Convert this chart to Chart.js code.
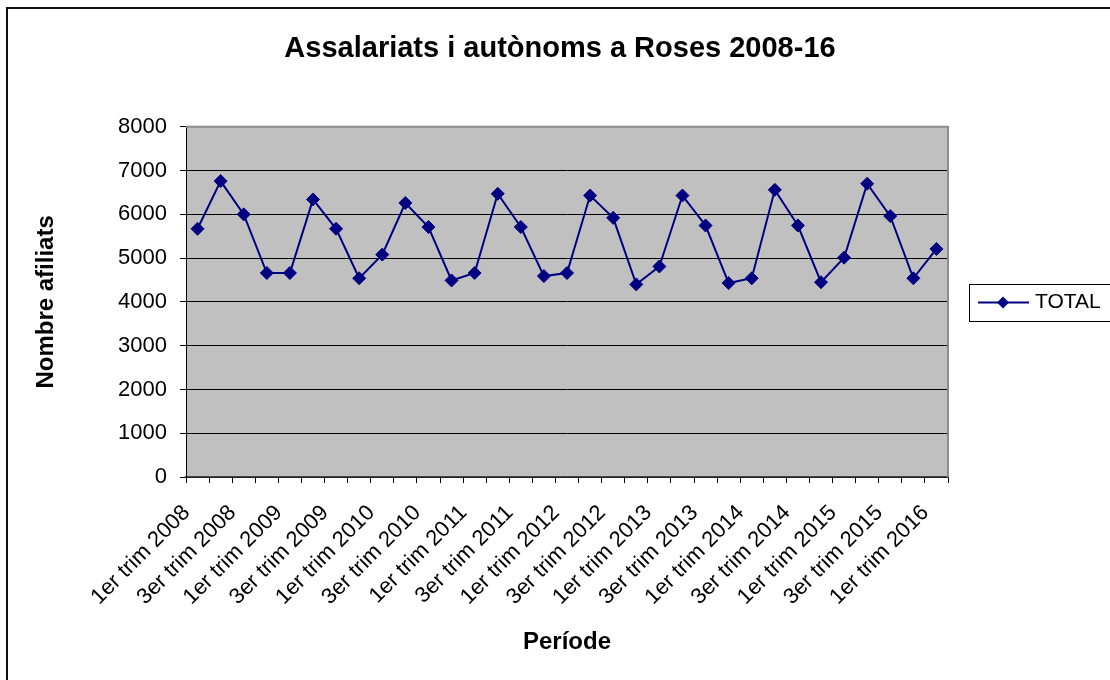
<!DOCTYPE html>
<html lang="ca">
<head>
  <meta charset="UTF-8" />
  <title>Assalariats i autònoms a Roses 2008-16</title>
  <script src="https://cdn.jsdelivr.net/npm/chart.js"></script>
  <style>
    body {
      margin: 0;
      background: #ffffff;
    }
    #chart {
      display: block;
    }
  </style>
</head>
<body>
<canvas id="chart" width="1110" height="680"></canvas>

<script>
  // Trimestres (només es mostren 1er i 3er a l'eix)
  const periods = [
    "1er trim 2008", "2n trim 2008", "3er trim 2008", "4t trim 2008",
    "1er trim 2009", "2n trim 2009", "3er trim 2009", "4t trim 2009",
    "1er trim 2010", "2n trim 2010", "3er trim 2010", "4t trim 2010",
    "1er trim 2011", "2n trim 2011", "3er trim 2011", "4t trim 2011",
    "1er trim 2012", "2n trim 2012", "3er trim 2012", "4t trim 2012",
    "1er trim 2013", "2n trim 2013", "3er trim 2013", "4t trim 2013",
    "1er trim 2014", "2n trim 2014", "3er trim 2014", "4t trim 2014",
    "1er trim 2015", "2n trim 2015", "3er trim 2015", "4t trim 2015",
    "1er trim 2016"
  ];

  // TOTAL afiliats per trimestre
  const totals = [
    5670, 6760, 6000, 4660,
    4660, 6340, 5670, 4540,
    5080, 6260, 5710, 4490,
    4660, 6470, 5710, 4590,
    4660, 6430, 5920, 4400,
    4810, 6430, 5745, 4430,
    4540, 6560, 5745, 4450,
    5010, 6700, 5960, 4540,
    5210
  ];

  const yTicks = [0, 1000, 2000, 3000, 4000, 5000, 6000, 7000, 8000];

  const FONT = "'Liberation Sans', Arial, sans-serif";
  const NAVY = "#000080";

  // white page, outer frame and grey plot area
  const backdrop = {
    id: "backdrop",
    beforeDraw(chart) {
      const { ctx, chartArea: a } = chart;
      ctx.save();
      ctx.fillStyle = "#ffffff";
      ctx.fillRect(0, 0, chart.width, chart.height);
      ctx.strokeStyle = "#111";
      ctx.lineWidth = 2;
      ctx.strokeRect(7, 8, 1300, 900);
      ctx.fillStyle = "#c0c0c0";
      ctx.fillRect(a.left, a.top, a.right - a.left, a.bottom - a.top);
      ctx.restore();
    },
    beforeDatasetsDraw(chart) {
      const { ctx, chartArea: a } = chart;
      ctx.save();
      ctx.strokeStyle = "#8c8c8c";
      ctx.lineWidth = 2;
      ctx.beginPath();
      ctx.moveTo(a.left, a.top);
      ctx.lineTo(a.right, a.top);
      ctx.lineTo(a.right, a.bottom);
      ctx.stroke();
      ctx.restore();
    }
  };

  // boxed legend on the right, like the spreadsheet one
  const boxLegend = {
    id: "boxLegend",
    afterDraw(chart) {
      const { ctx, chartArea: a } = chart;
      const ds = chart.data.datasets[0];
      const left = a.right + 21;
      const top = 284;
      const h = 37;
      const cy = top + h / 2;
      ctx.save();
      ctx.strokeStyle = "#000";
      ctx.lineWidth = 1;
      ctx.strokeRect(left + 0.5, top + 0.5, 300, h);
      ctx.strokeStyle = ds.borderColor;
      ctx.lineWidth = 2;
      ctx.beginPath();
      ctx.moveTo(left + 9, cy);
      ctx.lineTo(left + 60, cy);
      ctx.stroke();
      ctx.fillStyle = ds.pointBackgroundColor;
      const r = 6;
      const mx = left + 34;
      ctx.beginPath();
      ctx.moveTo(mx, cy - r);
      ctx.lineTo(mx + r, cy);
      ctx.lineTo(mx, cy + r);
      ctx.lineTo(mx - r, cy);
      ctx.closePath();
      ctx.fill();
      ctx.fillStyle = "#000";
      ctx.font = "21px " + FONT;
      ctx.textBaseline = "middle";
      ctx.fillText(ds.label, left + 66, cy);
      ctx.restore();
    }
  };

  new Chart(document.getElementById("chart"), {
    type: "line",
    data: {
      labels: periods,
      datasets: [{
        label: "TOTAL",
        data: totals,
        borderColor: NAVY,
        backgroundColor: NAVY,
        pointBackgroundColor: NAVY,
        pointBorderColor: NAVY,
        borderWidth: 2,
        pointStyle: "rectRot",
        pointRadius: 6.5,
        pointBorderWidth: 1,
        tension: 0,
        fill: false
      }]
    },
    options: {
      responsive: false,
      animation: false,
      devicePixelRatio: 1,
      layout: {
        padding: { top: 0, right: 0, bottom: 0, left: 10 }
      },
      plugins: {
        legend: { display: false },
        tooltip: { enabled: false },
        title: {
          display: true,
          text: "Assalariats i autònoms a Roses 2008-16",
          color: "#000",
          font: { family: FONT, size: 29, weight: "bold" },
          padding: { top: 32, bottom: 60 }
        }
      },
      scales: {
        x: {
          type: "category",
          offset: true,
          grid: {
            offset: true,
            drawOnChartArea: false,
            drawTicks: true,
            tickLength: 6,
            color: "#000"
          },
          border: { color: "#444", width: 1.5 },
          ticks: {
            autoSkip: false,
            minRotation: 45,
            maxRotation: 45,
            padding: 17,
            labelOffset: -11,
            color: "#000",
            font: { family: FONT, size: 22 },
            callback: (value, index) => (index % 2 === 0 ? periods[index] : "")
          },
          title: {
            display: true,
            text: "Període",
            color: "#000",
            font: { family: FONT, size: 24, weight: "bold" },
            padding: { top: 0, bottom: 23 }
          },
          afterFit(scale) {
            scale.height = 203;
          }
        },
        y: {
          min: yTicks[0],
          max: yTicks[yTicks.length - 1],
          afterBuildTicks(scale) {
            scale.ticks = yTicks.map(v => ({ value: v }));
          },
          grid: {
            color: ctx => (ctx.tick && ctx.tick.value === 8000 ? "#8c8c8c" : "#000"),
            lineWidth: 1,
            tickLength: 6,
            tickColor: "#000"
          },
          border: { color: "#000", width: 1 },
          ticks: {
            padding: 13,
            color: "#000",
            font: { family: FONT, size: 22 },
            callback: v => String(v)
          },
          title: {
            display: true,
            text: "Nombre afiliats",
            color: "#000",
            font: { family: FONT, size: 24, weight: "bold" },
            padding: { top: 22, bottom: 0 }
          },
          afterFit(scale) {
            scale.width = 176;
          }
        },
        // empty right-hand axis that only keeps room for the legend box
        legendRoom: {
          type: "linear",
          position: "right",
          display: true,
          grid: { display: false },
          border: { display: false },
          ticks: { display: false },
          afterFit(scale) {
            scale.width = 162;
          }
        }
      }
    },
    plugins: [backdrop, boxLegend]
  });
</script>
</body>
</html>
